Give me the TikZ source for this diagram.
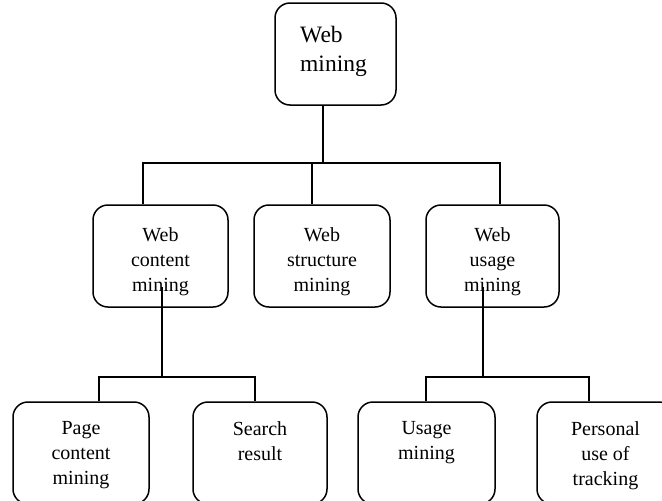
\documentclass[tikz,border=0pt]{standalone}
\usepackage{fontspec}
\setmainfont{Liberation Serif}
\usetikzlibrary{positioning}
\tikzset{
  box/.style={draw, line width=1.5pt, rounded corners=15pt, inner sep=0pt},
  txt/.style={align=center, inner sep=0pt, font=\fontsize{20}{25}\selectfont},
  conn/.style={line width=1.3pt}
}
\begin{document}
\begin{tikzpicture}[x=1pt,y=-1pt]
    \useasboundingbox (0,0) rectangle (662,501);
    % boxes
    \node[box, minimum width=121pt, minimum height=102pt] (wm) at (335.5,54) {};
    \node[box, minimum width=135pt, minimum height=102pt] (wcm) at (160.5,256) {};
    \node[box, minimum width=136pt, minimum height=102pt] (wsm) at (322,256) {};
    \node[box, minimum width=133pt, minimum height=102pt] (wum) at (492.5,256) {};
    \node[box, minimum width=136pt, minimum height=102pt] (pcm) at (81,453) {};
    \node[box, minimum width=134pt, minimum height=102pt] (sr) at (260,453) {};
    \node[box, minimum width=137pt, minimum height=102pt] (um) at (426.5,453) {};
    \node[box, minimum width=137pt, minimum height=102pt] (put) at (605.5,453) {};
    % texts
    \node[txt, align=left, anchor=north west, font=\fontsize{23.5}{29}\selectfont] (wm-t) at (300,26) {Web\\mining};
    \node[txt, below=23pt of wcm.north] (wcm-t) {Web\\content\\mining};
    \node[txt, below=23pt of wsm.north] (wsm-t) {Web\\structure\\mining};
    \node[txt, below=23pt of wum.north] (wum-t) {Web\\usage\\mining};
    \node[txt, below=20pt of pcm.north] (pcm-t) {Page\\content\\mining};
    \node[txt, below=20pt of sr.north] (sr-t) {Search\\result};
    \node[txt, below=20pt of um.north] (um-t) {Usage\\mining};
    \node[txt, below=20pt of put.north] (put-t) {Personal\\use of\\tracking};
    % joints
    \coordinate (j0) at (323,163);
    \coordinate (j1) at (143,163);
    \coordinate (j2) at (312,163);
    \coordinate (j3) at (500,163);
    \coordinate (c0) at (162,287);
    \coordinate (c1) at (162,377);
    \coordinate (c2) at (99,377);
    \coordinate (c3) at (255,377);
    \coordinate (u0) at (483,287);
    \coordinate (u1) at (483,377);
    \coordinate (u2) at (426,377);
    \coordinate (u3) at (589,377);
    % connectors
    \draw[conn] (wm.south -| j0) -- (j0);
    \draw[conn] (j1 |- wcm.north) -- (j1) -- (j3) -- (j3 |- wum.north);
    \draw[conn] (j2) -- (j2 |- wsm.north);
    \draw[conn] (c0) -- (c1);
    \draw[conn] (c2 |- pcm.north) -- (c2) -- (c3) -- (c3 |- sr.north);
    \draw[conn] (u0) -- (u1);
    \draw[conn] (u2 |- um.north) -- (u2) -- (u3) -- (u3 |- put.north);
\end{tikzpicture}
\end{document}
